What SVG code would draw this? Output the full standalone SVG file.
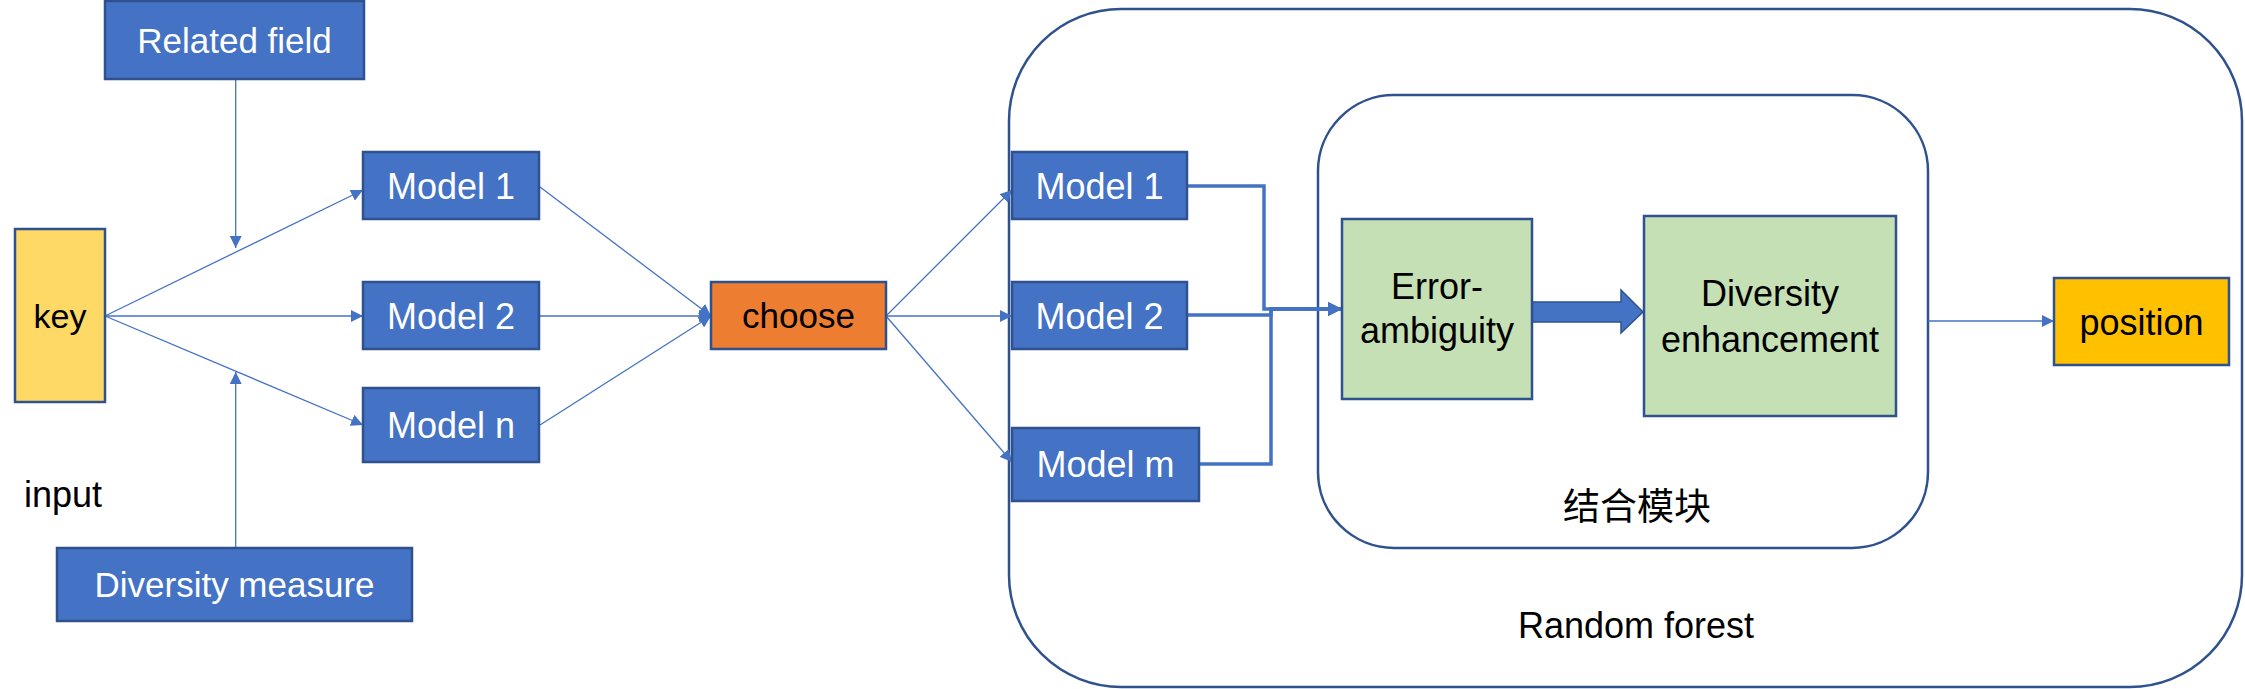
<svg xmlns="http://www.w3.org/2000/svg" width="2245" height="689" viewBox="0 0 2245 689">
<defs>
<style>
.blue{fill:#4472C4;stroke:#2F528F;stroke-width:2.5}
.green{fill:#C5E0B4;stroke:#2F528F;stroke-width:2.5}
.cont{fill:none;stroke:#2F528F;stroke-width:2.5}
.t{font-family:"Liberation Sans",Arial,sans-serif;font-size:36px;text-anchor:middle}
.w{fill:#FFFFFF}
.k{fill:#000000}
.thin{fill:none;stroke:#4472C4;stroke-width:1.3}
.thick{fill:none;stroke:#4472C4;stroke-width:3.5}
</style>
<marker id="ah" markerUnits="userSpaceOnUse" markerWidth="13" markerHeight="12" refX="12" refY="6" orient="auto">
<path d="M0,0 L12,6 L0,12 z" fill="#4472C4"/>
</marker>
<marker id="ahT" markerUnits="userSpaceOnUse" markerWidth="15" markerHeight="14" refX="14" refY="7" orient="auto">
<path d="M0,0 L14,7 L0,14 z" fill="#4472C4"/>
</marker>
</defs>
<rect width="2245" height="689" fill="#FFFFFF"/>

<g id="random-forest">
<rect class="cont" x="1009" y="9" width="1233" height="678" rx="112" ry="112"/>
<text class="t k" x="1636" y="638">Random forest</text>
</g>
<g id="combine-module">
<rect class="cont" x="1318" y="95" width="610" height="453" rx="76" ry="76"/>
<text x="1637" y="520" style="font-family:'Noto Sans CJK SC','Noto Sans',sans-serif;font-size:37px;text-anchor:middle" fill="#000000">结合模块</text>
</g>

<g id="connectors">
<line class="thin" x1="235.7" y1="79" x2="235.7" y2="248" marker-end="url(#ah)"/>
<line class="thin" x1="235.7" y1="547" x2="235.7" y2="372" marker-end="url(#ah)"/>
<line class="thin" x1="105" y1="316" x2="363" y2="190" marker-end="url(#ah)"/>
<line class="thin" x1="105" y1="316" x2="363" y2="316" marker-end="url(#ah)"/>
<line class="thin" x1="105" y1="316" x2="363" y2="425" marker-end="url(#ah)"/>
<line class="thin" x1="540" y1="187" x2="711" y2="316" marker-end="url(#ah)"/>
<line class="thin" x1="540" y1="316" x2="711" y2="316" marker-end="url(#ah)"/>
<line class="thin" x1="540" y1="425" x2="711" y2="316" marker-end="url(#ah)"/>
<line class="thin" x1="886" y1="316" x2="1012" y2="190" marker-end="url(#ah)"/>
<line class="thin" x1="886" y1="316" x2="1012" y2="316" marker-end="url(#ah)"/>
<line class="thin" x1="886" y1="316" x2="1012" y2="462" marker-end="url(#ah)"/>
<polyline class="thick" points="1187,186 1264,186 1264,309 1342,309" marker-end="url(#ahT)"/>
<polyline class="thick" points="1187,315 1271,315 1271,309 1342,309" marker-end="url(#ahT)"/>
<polyline class="thick" points="1199,464 1271,464 1271,309 1342,309" marker-end="url(#ahT)"/>
<polygon points="1529,302 1621,302 1621,290 1643,312 1621,333 1621,322 1529,322" fill="#4472C4" stroke="#2F528F" stroke-width="1.5"/>
<line class="thin" x1="1928" y1="321" x2="2054" y2="321" marker-end="url(#ah)"/>
</g>

<g id="related-field">
<rect class="blue" x="105" y="1" width="259" height="78"/>
<text class="t w" x="234.5" y="53" style="font-size:35px">Related field</text>
</g>
<g id="key">
<rect x="15" y="229" width="90" height="173" fill="#FFD966" stroke="#2F528F" stroke-width="2.5"/>
<text class="t k" x="60" y="328" style="font-size:34px">key</text>
</g>
<g id="input-label">
<text class="t k" x="24" y="507" style="text-anchor:start">input</text>
</g>
<g id="diversity-measure">
<rect class="blue" x="57" y="548" width="355" height="73"/>
<text class="t w" x="234.5" y="597" style="font-size:35px">Diversity measure</text>
</g>
<g id="model-1-left">
<rect class="blue" x="363" y="152" width="176" height="67"/>
<text class="t w" x="451" y="199">Model 1</text>
</g>
<g id="model-2-left">
<rect class="blue" x="363" y="282" width="176" height="67"/>
<text class="t w" x="451" y="329">Model 2</text>
</g>
<g id="model-n-left">
<rect class="blue" x="363" y="388" width="176" height="74"/>
<text class="t w" x="451" y="438">Model n</text>
</g>
<g id="choose">
<rect x="711" y="282" width="175" height="67" fill="#ED7D31" stroke="#2F528F" stroke-width="2.5"/>
<text class="t k" x="798.5" y="328" style="font-size:35px">choose</text>
</g>
<g id="model-1-right">
<rect class="blue" x="1012" y="152" width="175" height="67"/>
<text class="t w" x="1099.5" y="199">Model 1</text>
</g>
<g id="model-2-right">
<rect class="blue" x="1012" y="282" width="175" height="67"/>
<text class="t w" x="1099.5" y="329">Model 2</text>
</g>
<g id="model-m-right">
<rect class="blue" x="1012" y="428" width="187" height="73"/>
<text class="t w" x="1105.5" y="477">Model m</text>
</g>
<g id="error-ambiguity">
<rect class="green" x="1342" y="219" width="190" height="180"/>
<text class="t k" x="1437" y="299">Error-</text>
<text class="t k" x="1437" y="343">ambiguity</text>
</g>
<g id="diversity-enhancement">
<rect class="green" x="1644" y="216" width="252" height="200"/>
<text class="t k" x="1770" y="306">Diversity</text>
<text class="t k" x="1770" y="352">enhancement</text>
</g>
<g id="position">
<rect x="2054" y="278" width="175" height="87" fill="#FFC000" stroke="#2F528F" stroke-width="2.5"/>
<text class="t k" x="2141.5" y="335">position</text>
</g>
</svg>
